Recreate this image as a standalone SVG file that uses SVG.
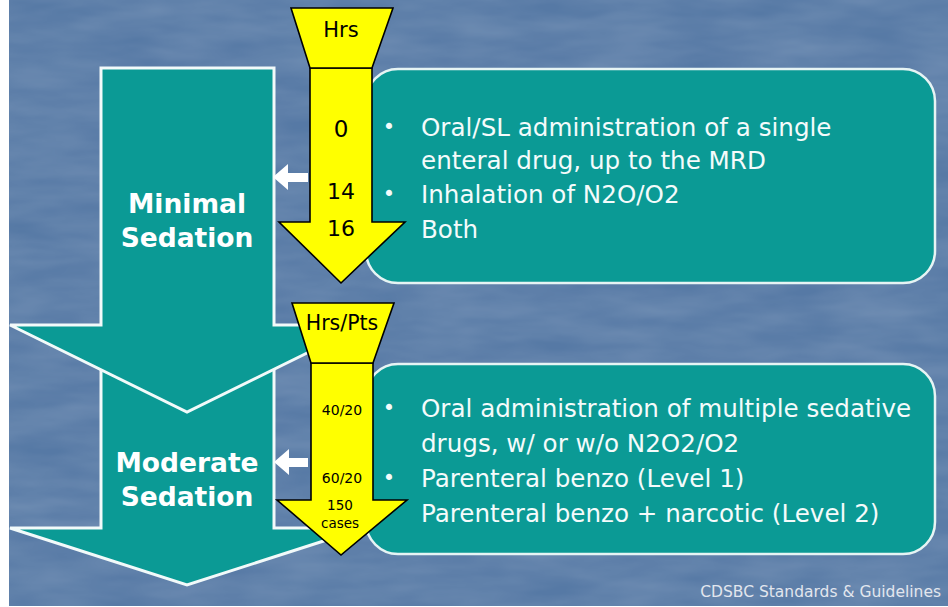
<svg xmlns="http://www.w3.org/2000/svg" width="948" height="607" viewBox="0 0 948 607">
<defs>
<filter id="tex" x="0" y="0" width="100%" height="100%">
<feTurbulence type="fractalNoise" baseFrequency="0.012 0.05" numOctaves="3" seed="4" result="n"/>
<feColorMatrix in="n" type="matrix" values="0 0 0 0 1  0 0 0 0 1  0 0 0 0 1  0 0 0 0.35 -0.05"/>
</filter>
</defs>
<style>
.teal{fill:#0b9a95;stroke:#f2fafa;stroke-width:3;stroke-linejoin:miter}
.box{fill:#0b9a95;stroke:#e6f4f4;stroke-width:2.5}
.yel{fill:#ffff00;stroke:#000;stroke-width:1.6;stroke-linejoin:miter}
.lbl{font-family:"DejaVu Sans",Verdana,sans-serif;font-weight:bold;font-size:26.5px;fill:#fff;text-anchor:middle}
.body{font-family:"DejaVu Sans",Verdana,sans-serif;font-size:24.6px;fill:#f4fbfb}
.bul{font-family:"DejaVu Sans",Verdana,sans-serif;font-size:21px;fill:#f4fbfb;text-anchor:middle}
.num{font-family:"DejaVu Sans",Verdana,sans-serif;fill:#000;text-anchor:middle}
.wa{fill:#ffffff}
</style>
<g id="background">
<rect x="0" y="0" width="948" height="607" fill="#ffffff"/>
<rect x="9" y="0" width="939" height="606" fill="#5679a5"/>
<rect x="9" y="0" width="939" height="606" filter="url(#tex)" opacity="0.5"/>
</g>
<g id="moderate-sedation">
<polygon class="teal" points="101,330 274,330 274,528 364,528 187,585 10,528 101,528"/>
<text class="lbl" x="187" y="472">Moderate</text>
<text class="lbl" x="187" y="506">Sedation</text>
</g>
<g id="minimal-sedation">
<polygon class="teal" points="101,68 274,68 274,325 364,325 187,412 10,325 101,325"/>
<text class="lbl" x="187" y="213">Minimal</text>
<text class="lbl" x="187" y="247">Sedation</text>
</g>
<g id="minimal-box">
<rect class="box" x="366" y="69" width="569" height="214" rx="32" ry="32"/>
<text class="bul" x="389" y="134">•</text>
<text class="body" x="421" y="136">Oral/SL administration of a single</text>
<text class="body" x="421" y="169">enteral drug, up to the MRD</text>
<text class="bul" x="389" y="201">•</text>
<text class="body" x="421" y="203">Inhalation of N2O/O2</text>
<text class="body" x="421" y="238">Both</text>
</g>
<g id="moderate-box">
<rect class="box" x="366" y="364" width="569" height="190" rx="32" ry="32"/>
<text class="bul" x="389" y="415">•</text>
<text class="body" x="421" y="417">Oral administration of multiple sedative</text>
<text class="body" x="421" y="452">drugs, w/ or w/o N2O2/O2</text>
<text class="bul" x="389" y="485">•</text>
<text class="body" x="421" y="487">Parenteral benzo (Level 1)</text>
<text class="body" x="421" y="522">Parenteral benzo + narcotic (Level 2)</text>
</g>
<g id="hours-arrow-1">
<polygon class="yel" points="310,68 372,68 372,222 405,222 341,283 279,222 310,222"/>
<polygon class="yel" points="291,8 393,8 372,68 310,68"/>
<text class="num" x="341" y="37" font-size="21">Hrs</text>
<text class="num" x="341" y="137" font-size="23">0</text>
<text class="num" x="341" y="199" font-size="22">14</text>
<text class="num" x="341" y="236" font-size="22">16</text>
</g>
<g id="hours-arrow-2">
<polygon class="yel" points="311,363 373,363 373,500 407,500 341,555 277,500 311,500"/>
<polygon class="yel" points="292,303 394,303 373,363 311,363"/>
<text class="num" x="342" y="330" font-size="20.5">Hrs/Pts</text>
<text class="num" x="342" y="415" font-size="14">40/20</text>
<text class="num" x="342" y="483" font-size="14">60/20</text>
<text class="num" x="340" y="510" font-size="13.5">150</text>
<text class="num" x="340" y="528" font-size="13.5">cases</text>
</g>
<g id="connectors">
<polygon class="wa" points="273,177 288,164 288,173 308,173 308,182 288,182 288,190"/>
<polygon class="wa" points="274,462 289,449 289,458 308,458 308,467 289,467 289,475"/>
</g>
<g id="footer">
<text x="941" y="597" font-family="DejaVu Sans, Verdana, sans-serif" font-size="15.5" fill="#e2e6ee" text-anchor="end">CDSBC Standards &amp; Guidelines</text>
</g>
</svg>
